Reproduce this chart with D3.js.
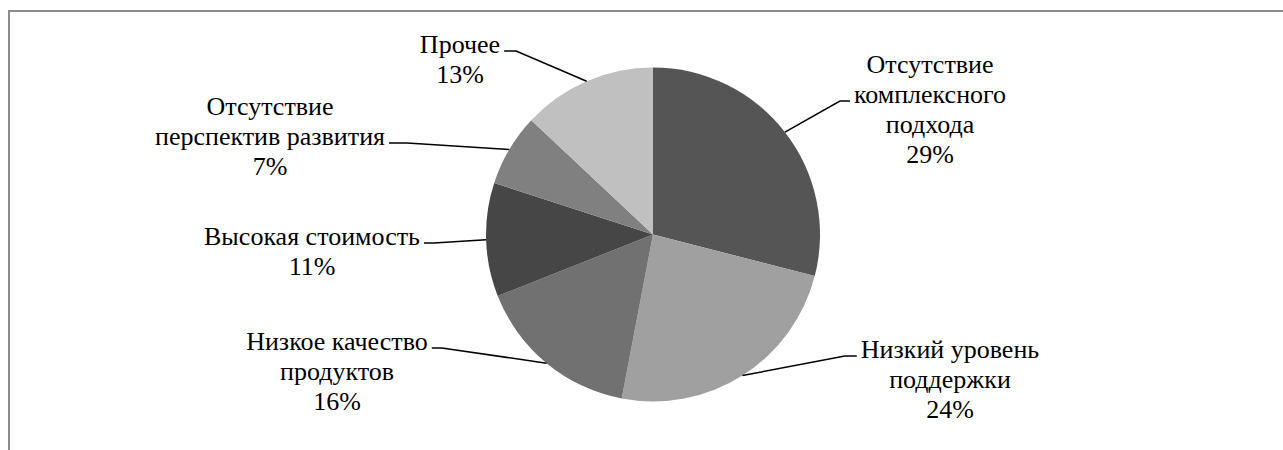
<!DOCTYPE html>
<html>
<head>
<meta charset="utf-8">
<script src="https://cdn.jsdelivr.net/npm/d3@7/dist/d3.min.js"></script>
</head>
<body style="margin:0">
<svg id="chart" width="1283" height="450"></svg>
<script>
// Reasons, in drawing order (clockwise from 12 o'clock)
const categories = [
  ["Отсутствие", "комплексного", "подхода"],
  ["Низкий уровень", "поддержки"],
  ["Низкое качество", "продуктов"],
  ["Высокая стоимость"],
  ["Отсутствие", "перспектив развития"],
  ["Прочее"]
];
const values = [29, 24, 16, 11, 7, 13];
const sliceColors = ["#555555", "#a0a0a0", "#717171", "#464646", "#808080", "#c0c0c0"];

// Label placement: centre x of the text block, baseline of first line,
// side the leader line approaches from, line the leader attaches to,
// and length of the leader's horizontal run.
const labelLayout = [
  { x: 930, y: 73,  side: "left",  attach: 1, run: 10 },
  { x: 950, y: 358, side: "left",  attach: 0, run: 12 },
  { x: 337, y: 350, side: "right", attach: 0, run: 10 },
  { x: 312, y: 245, side: "right", attach: 0, run: 10 },
  { x: 270, y: 115, side: "right", attach: 1, run: 18 },
  { x: 460, y: 53,  side: "right", attach: 0, run: 12 }
];

const svg = d3.select("#chart");
const W = 1283, H = 450;

// Outer frame (runs off the right and bottom edges)
svg.append("rect")
  .attr("x", 9).attr("y", 11)
  .attr("width", W + 20).attr("height", H + 20)
  .attr("fill", "none")
  .attr("stroke", "#8c8c8c")
  .attr("stroke-width", 2);

const cx = 653, cy = 234.5, R = 167;
const fontSize = 26, lineH = 30;

const data = values.map((v, i) => ({ value: v, lines: categories[i], color: sliceColors[i], layout: labelLayout[i] }));

const pie = d3.pie().value(d => d.value).sort(null);
const arcs = pie(data);
const arc = d3.arc().innerRadius(0).outerRadius(R);

const g = svg.append("g").attr("transform", `translate(${cx},${cy})`);

g.selectAll("path.slice")
  .data(arcs)
  .join("path")
  .attr("class", "slice")
  .attr("d", arc)
  .attr("fill", d => d.data.color);

// Leader lines and labels
const total = d3.sum(values);
const fmt = v => Math.round(v / total * 100) + "%";

arcs.forEach(a => {
  const L = a.data.layout;
  const mid = (a.startAngle + a.endAngle) / 2;
  const sx = cx + R * Math.sin(mid);
  const sy = cy - R * Math.cos(mid);

  const lines = a.data.lines.concat([fmt(a.data.value)]);
  const nodes = lines.map((t, k) =>
    svg.append("text")
      .attr("x", L.x)
      .attr("y", L.y + k * lineH)
      .attr("font-family", "Liberation Serif")
      .style("font-family", "'Liberation Serif', 'Times New Roman', serif")
      .style("font-size", fontSize + "px")
      .attr("fill", "#000")
      .attr("text-anchor", "middle")
      .text(t)
  );

  const w = nodes[L.attach].node().getComputedTextLength();
  const ly = L.y + L.attach * lineH - 2;
  let ex, hx;
  if (L.side === "left") {
    ex = L.x - w / 2 - 4;
    hx = ex - L.run;
  } else {
    ex = L.x + w / 2 + 4;
    hx = ex + L.run;
  }
  svg.append("polyline")
    .attr("points", [[sx, sy], [hx, ly], [ex, ly]].map(p => p.join(",")).join(" "))
    .attr("fill", "none")
    .attr("stroke", "#000")
    .attr("stroke-width", 1.5);
});
</script>
</body>
</html>
